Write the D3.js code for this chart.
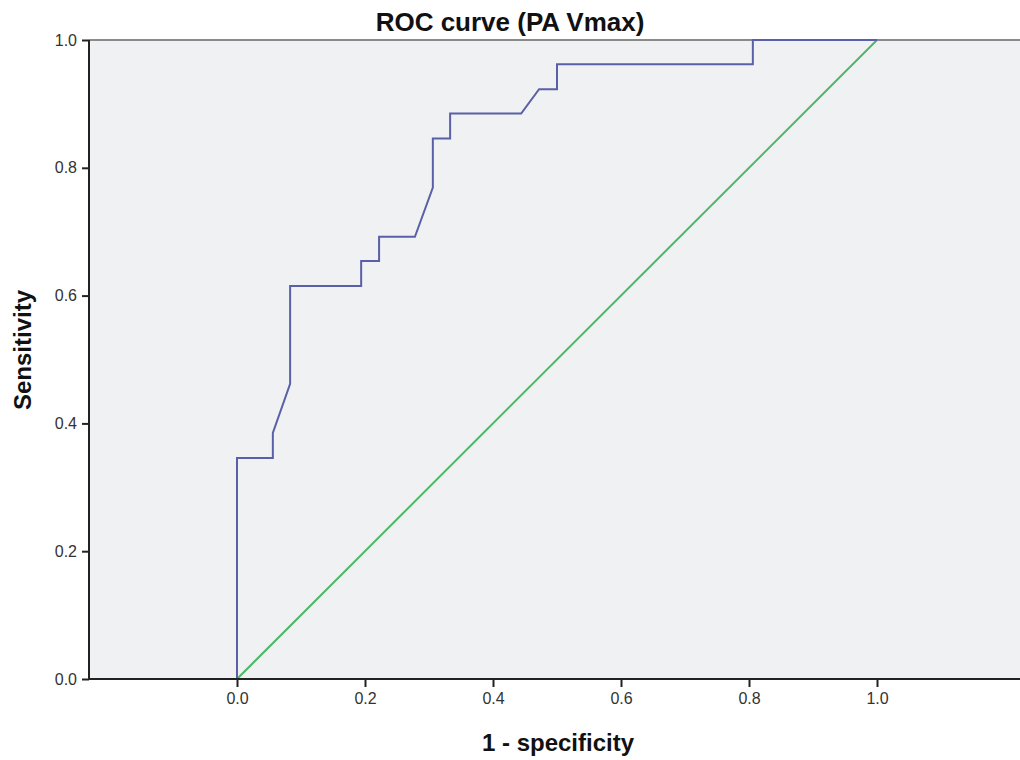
<!DOCTYPE html>
<html>
<head>
<meta charset="utf-8">
<script src="https://cdn.jsdelivr.net/npm/d3@7.9.0/dist/d3.min.js"></script>
<style>
  body { margin: 0; background: #fff; }
  svg { display: block; font-family: "Liberation Sans", Arial, sans-serif; }
</style>
</head>
<body>
<svg id="chart" width="1020" height="760"></svg>
<script>
// ROC points (1 - specificity, sensitivity)
const fpr = [0, 0, 0.056, 0.056, 0.083, 0.083, 0.194, 0.194, 0.222, 0.222, 0.278, 0.306, 0.306, 0.333, 0.333, 0.444, 0.472, 0.5, 0.5, 0.806, 0.806, 1.0];
const tpr = [0, 0.346, 0.346, 0.385, 0.462, 0.615, 0.615, 0.654, 0.654, 0.692, 0.692, 0.769, 0.846, 0.846, 0.885, 0.885, 0.923, 0.923, 0.962, 0.962, 1.0, 1.0];
// reference diagonal
const refX = [0, 1];
const refY = [0, 1];
const xTicks = [0, 0.2, 0.4, 0.6, 0.8, 1.0];
const yTicks = [0, 0.2, 0.4, 0.6, 0.8, 1.0];

const svg = d3.select('#chart');
const plotL = 89, plotR = 1020, plotT = 40, plotB = 679;

const x = d3.scaleLinear().domain([0, 1]).range([237, 877]);
const y = d3.scaleLinear().domain([0, 1]).range([plotB, plotT]);

// plot background
svg.append('rect')
  .attr('x', plotL).attr('y', plotT)
  .attr('width', plotR - plotL).attr('height', plotB - plotT)
  .attr('fill', '#f0f1f3');

// top border
svg.append('line')
  .attr('x1', plotL).attr('x2', plotR)
  .attr('y1', plotT).attr('y2', plotT)
  .attr('stroke', '#8a8a8a').attr('stroke-width', 2);

const line = d3.line().x(d => x(d[0])).y(d => y(d[1]));

svg.append('path')
  .datum(refX.map((v, i) => [v, refY[i]]))
  .attr('d', line)
  .attr('fill', 'none')
  .attr('stroke', '#4cb865')
  .attr('stroke-width', 2);

svg.append('path')
  .datum(fpr.map((v, i) => [v, tpr[i]]))
  .attr('d', line)
  .attr('fill', 'none')
  .attr('stroke', '#5a60a8')
  .attr('stroke-width', 2);

// axes
const xAxis = svg.append('g')
  .attr('transform', `translate(0,${plotB})`)
  .call(d3.axisBottom(x).tickValues(xTicks).tickFormat(d3.format('.1f')).tickSize(8).tickPadding(6));
xAxis.select('.domain').remove();
xAxis.append('line')
  .attr('x1', plotL).attr('x2', plotR)
  .attr('stroke', '#222').attr('stroke-width', 2);

const yAxis = svg.append('g')
  .attr('transform', `translate(${plotL},0)`)
  .call(d3.axisLeft(y).tickValues(yTicks).tickFormat(d3.format('.1f')).tickSize(7).tickPadding(5));
yAxis.select('.domain').remove();
yAxis.append('line')
  .attr('y1', plotT).attr('y2', plotB)
  .attr('stroke', '#222').attr('stroke-width', 2);

svg.selectAll('.tick line').attr('stroke', '#222').attr('stroke-width', 2);
svg.selectAll('.tick text')
  .attr('font-family', '"Liberation Sans", Arial, sans-serif')
  .attr('font-size', 16)
  .attr('fill', '#333');

// titles
svg.append('text')
  .attr('x', 510).attr('y', 31)
  .attr('text-anchor', 'middle')
  .attr('font-size', 26).attr('font-weight', 'bold')
  .attr('fill', '#111')
  .text('ROC curve (PA Vmax)');

svg.append('text')
  .attr('transform', 'translate(31,350) rotate(-90)')
  .attr('text-anchor', 'middle')
  .attr('font-size', 24).attr('font-weight', 'bold')
  .attr('fill', '#111')
  .text('Sensitivity');

svg.append('text')
  .attr('x', 558).attr('y', 751)
  .attr('text-anchor', 'middle')
  .attr('font-size', 24).attr('font-weight', 'bold')
  .attr('fill', '#111')
  .text('1 - specificity');
</script>
</body>
</html>
